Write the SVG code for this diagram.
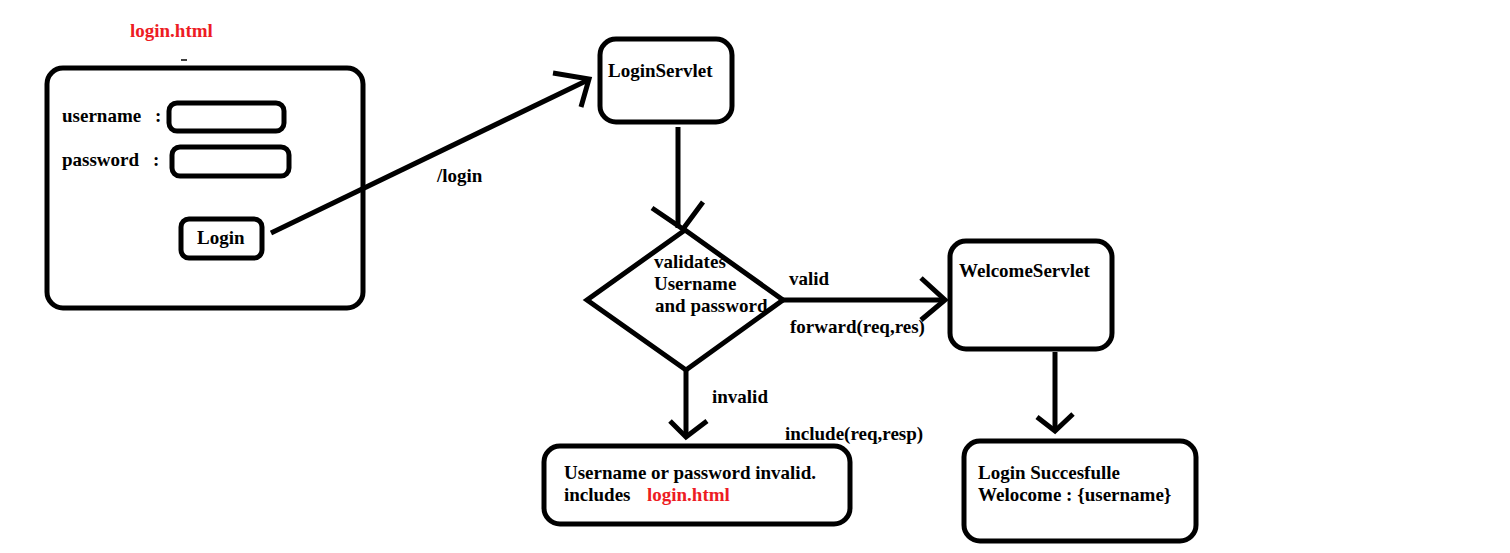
<svg xmlns="http://www.w3.org/2000/svg" width="1510" height="553" viewBox="0 0 1510 553">
<style>
.box{fill:#fff;stroke:#000;stroke-width:5}
.ln{fill:none;stroke:#000;stroke-width:5;stroke-linecap:butt;stroke-linejoin:miter}
text{font-family:"Liberation Serif","Times New Roman",serif;font-weight:bold;font-size:19px;fill:#000}
.red{fill:#ED1C24}
</style>
<rect width="1510" height="553" fill="#fff"/>
<g id="login-html">
<text class="red" x="130" y="37">login.html</text>
<line x1="181" y1="60" x2="187" y2="60" stroke="#000" stroke-width="1.5"/>
<rect class="box" x="47" y="68" width="316" height="240" rx="16"/>
<text x="62" y="122">username</text>
<text x="155" y="122">:</text>
<rect class="box" x="169" y="103" width="115" height="28" rx="8"/>
<text x="62" y="166">password</text>
<text x="153" y="166">:</text>
<rect class="box" x="172" y="147" width="117" height="29" rx="8"/>
<g id="login-button">
<rect class="box" x="181" y="219" width="81" height="39" rx="8"/>
<text x="197" y="244">Login</text>
</g>
</g>
<g id="login-servlet">
<rect class="box" x="600" y="39" width="132" height="83" rx="16"/>
<text x="608" y="77">LoginServlet</text>
</g>
<g id="validate">
<polygon class="box" points="685,230 783,300 686,370 587,300"/>
<text x="654" y="268">validates</text>
<text x="654" y="290">Username</text>
<text x="655" y="312">and password</text>
</g>
<g id="welcome-servlet">
<rect class="box" x="950" y="241" width="162" height="108" rx="16"/>
<text x="959" y="277">WelcomeServlet</text>
</g>
<g id="success">
<rect class="box" x="964" y="441" width="232" height="100" rx="16"/>
<text x="978" y="479">Login Succesfulle</text>
<text x="978" y="501">Welocome : {username}</text>
</g>
<g id="invalid">
<rect class="box" x="544" y="446" width="306" height="78" rx="16"/>
<text x="564" y="479">Username or password invalid.</text>
<text x="564" y="501">includes</text>
<text class="red" x="647" y="501">login.html</text>
</g>
<g id="connectors">
<line class="ln" x1="271" y1="233" x2="588" y2="80"/>
<polyline class="ln" points="553,73 589,79 581,107"/>
<text x="437" y="182">/login</text>
<line class="ln" x1="678" y1="127" x2="678" y2="228"/>
<polyline class="ln" points="652,208 683,229 703,202"/>
<line class="ln" x1="783" y1="300" x2="945" y2="300"/>
<polyline class="ln" points="921,278 945,300 921,320"/>
<text x="789" y="285">valid</text>
<text x="790" y="333">forward(req,res)</text>
<line class="ln" x1="686" y1="370" x2="686" y2="436"/>
<polyline class="ln" points="670,421 686,437 707,421"/>
<text x="712" y="403">invalid</text>
<text x="785" y="440">include(req,resp)</text>
<line class="ln" x1="1055" y1="352" x2="1055" y2="430"/>
<polyline class="ln" points="1037,417 1055,431 1073,414"/>
</g>
</svg>
